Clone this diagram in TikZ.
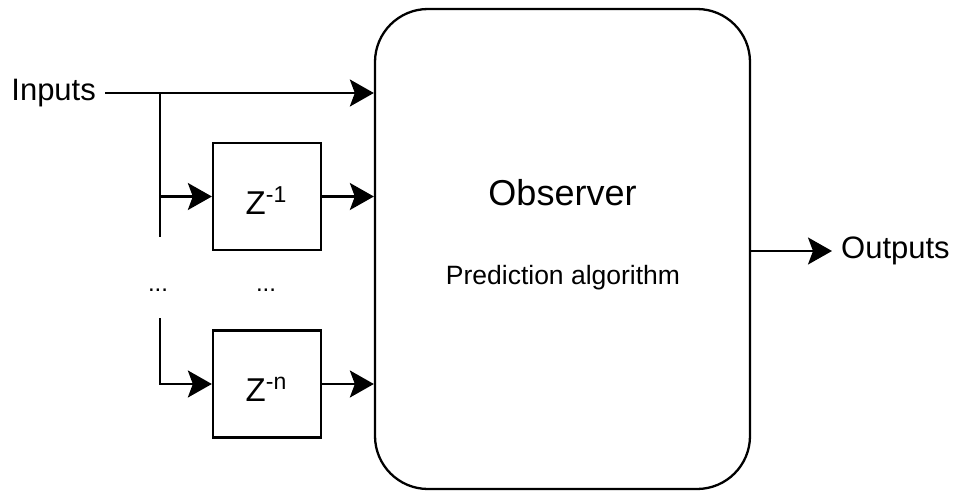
\documentclass[tikz,border=0pt]{standalone}
\usepackage{fontspec}
\setmainfont{Liberation Sans}
\usetikzlibrary{arrows.meta}
\newcommand{\zpow}[1]{Z\raisebox{12pt}{\fontsize{23}{26}\selectfont#1}}
\begin{document}
\begin{tikzpicture}[x=1pt,y=-1pt,
  line width=2.3pt,
  arr/.style={-{Stealth[length=24pt,width=27pt,inset=5pt]}},
  delaybox/.style={draw,minimum width=108pt,minimum height=107pt,inner sep=0pt},
  lbl/.style={inner sep=0pt,font=\fontsize{31}{36}\selectfont},
  dots/.style={inner sep=0pt,font=\fontsize{24}{28}\selectfont}]
\useasboundingbox (0,0) rectangle (958,492);

% main block
\node[draw,rounded corners=53pt,minimum width=375pt,minimum height=480pt,inner sep=0pt]
  (obs) at (562.5,249) {};
\node[font=\fontsize{36}{42}\selectfont,inner sep=0pt] (title) at (562.5,193) {Observer};
\node[font=\fontsize{26.5}{31}\selectfont,inner sep=0pt] (algo) at (563,278) {Prediction algorithm};

% delay elements
\node[delaybox] (z1) at (267,196.5) {};
\node[delaybox] (zn) at (267,384) {};
\node[font=\fontsize{33}{38}\selectfont,inner sep=0pt] (z1t) at (266,201) {\zpow{-1}};
\node[font=\fontsize{33}{38}\selectfont,inner sep=0pt] (znt) at (266,389) {\zpow{-n}};

% inputs and the tapped line
\node[lbl,anchor=east] (in) at (97,93) {Inputs};
\coordinate (tap) at (160,93);
\coordinate (tapend) at (160,237);
\coordinate (tapn) at (160,318);
\draw[arr] ([xshift=8pt]in.east) -- (in.east -| obs.west);
\draw (tap) -- (tapend);
\draw[arr] (tap |- z1) -- (z1.west);
\draw[arr] (tapn) -- (tapn |- zn) -- (zn.west);
\draw[arr] (z1.east) -- (z1 -| obs.west);
\draw[arr] (zn.east) -- (zn -| obs.west);

\node[dots] (d1) at (158,290) {...};
\node[dots] (d2) at (266,290) {...};

% output
\node[lbl,anchor=west] (out) at (840,251) {Outputs};
\coordinate (oe) at (obs.east |- out);
\draw[arr] (oe) -- ([xshift=-8pt]out.west);
\end{tikzpicture}
\end{document}
